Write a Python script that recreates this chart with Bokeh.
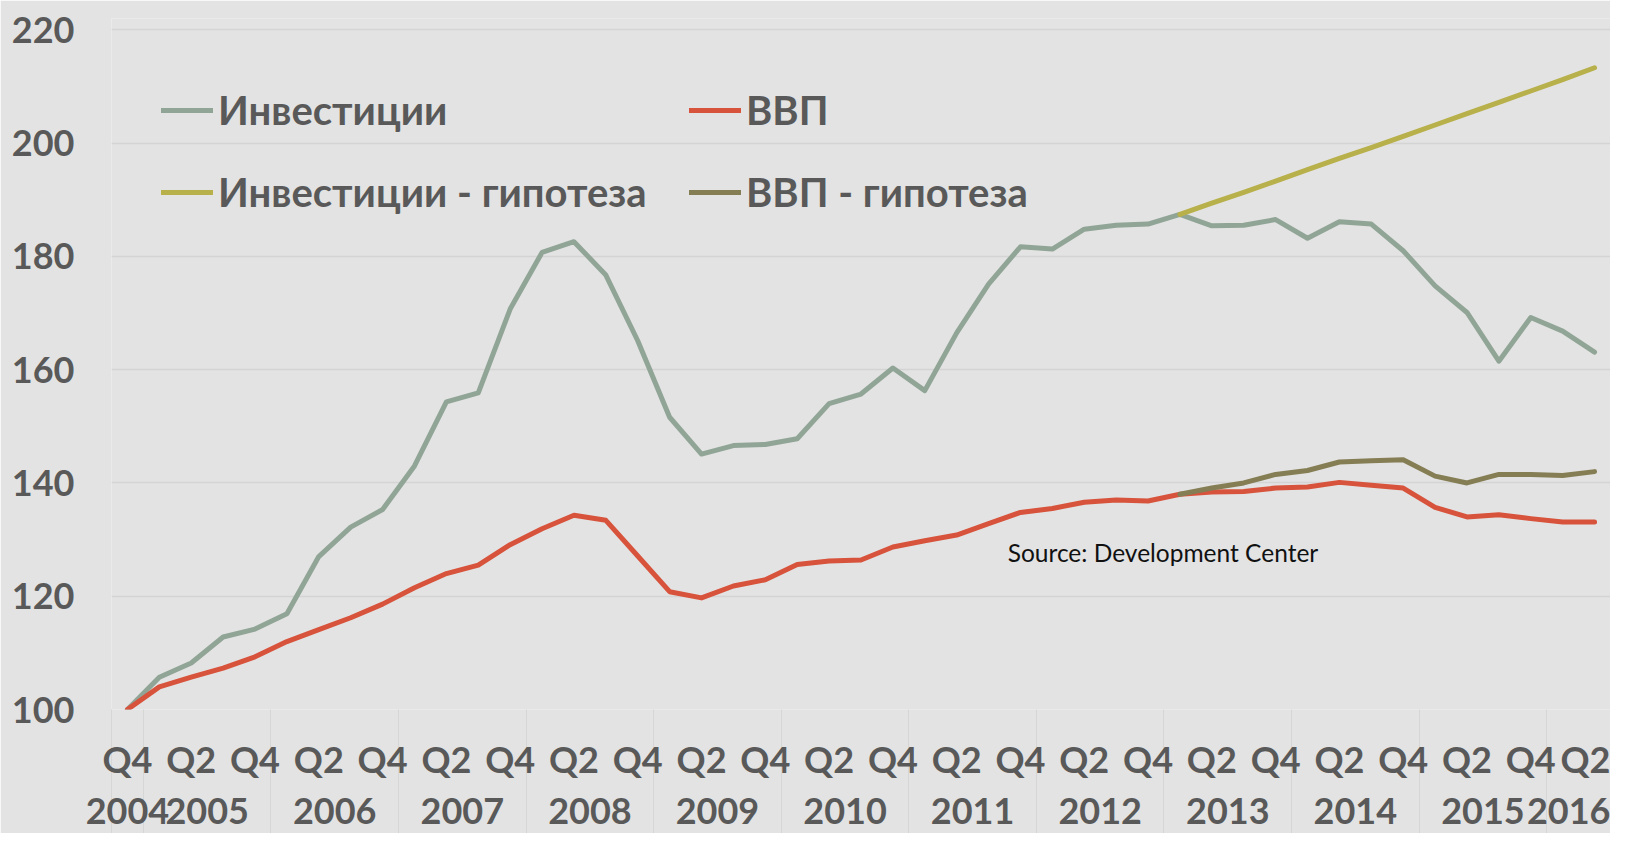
from bokeh.plotting import figure
from bokeh.models import Range1d, LinearAxis, FixedTicker, Legend, LegendItem, Label
from bokeh.embed import file_html
from bokeh.resources import INLINE

# ---------------- data ----------------
periods = [
    "2004 Q4",
    "2005 Q1", "2005 Q2", "2005 Q3", "2005 Q4",
    "2006 Q1", "2006 Q2", "2006 Q3", "2006 Q4",
    "2007 Q1", "2007 Q2", "2007 Q3", "2007 Q4",
    "2008 Q1", "2008 Q2", "2008 Q3", "2008 Q4",
    "2009 Q1", "2009 Q2", "2009 Q3", "2009 Q4",
    "2010 Q1", "2010 Q2", "2010 Q3", "2010 Q4",
    "2011 Q1", "2011 Q2", "2011 Q3", "2011 Q4",
    "2012 Q1", "2012 Q2", "2012 Q3", "2012 Q4",
    "2013 Q1", "2013 Q2", "2013 Q3", "2013 Q4",
    "2014 Q1", "2014 Q2", "2014 Q3", "2014 Q4",
    "2015 Q1", "2015 Q2", "2015 Q3", "2015 Q4",
    "2016 Q1", "2016 Q2",
]

investments = [100.0, 105.7, 108.2, 112.8, 114.2, 116.9, 127.0, 132.2, 135.3, 143.0,
               154.3, 155.9, 170.7, 180.7, 182.6, 176.7, 165.1, 151.6, 145.1, 146.6,
               146.8, 147.8, 154.0, 155.7, 160.3, 156.3, 166.5, 175.1, 181.7, 181.3,
               184.8, 185.5, 185.7, 187.4, 185.4, 185.5, 186.5, 183.2, 186.1, 185.7,
               181.0, 174.8, 170.1, 161.5, 169.2, 166.8, 163.1]

gdp = [100.0, 104.0, 105.7, 107.3, 109.3, 112.0, 114.1, 116.2, 118.6, 121.5,
       124.0, 125.5, 129.1, 131.9, 134.3, 133.4, 127.1, 120.8, 119.7, 121.8,
       122.9, 125.6, 126.2, 126.4, 128.7, 129.8, 130.8, 132.8, 134.8, 135.5,
       136.6, 137.0, 136.8, 138.0, 138.4, 138.5, 139.1, 139.3, 140.1, 139.6,
       139.1, 135.7, 134.0, 134.4, 133.7, 133.1, 133.1]

hyp_start = "2013 Q1"
investments_hyp = [187.4, 189.4, 191.3, 193.3, 195.3, 197.3, 199.2, 201.2, 203.2,
                   205.2, 207.2, 209.2, 211.2, 213.3]
gdp_hyp = [138.0, 139.1, 140.0, 141.5, 142.2, 143.7, 143.9, 144.1, 141.2, 140.0,
           141.5, 141.5, 141.3, 142.0]

y_ticks = [100, 120, 140, 160, 180, 200, 220]

names = ["Инвестиции", "ВВП", "Инвестиции - гипотеза", "ВВП - гипотеза"]
colors = ["#91A597", "#D8533B", "#B8B04A", "#857E54"]

source_text = "Source: Development Center"

# ---------------- derived positions ----------------
x = list(range(len(periods)))
q_of = [s.split()[1] for s in periods]
yr_of = [s.split()[0] for s in periods]
h0 = periods.index(hyp_start)
x_hyp = x[h0:h0 + len(investments_hyp)]

q_ticks = [i for i in x if q_of[i] in ("Q2", "Q4")]
q_over = {i: q_of[i] for i in q_ticks}

groups = {}
for i, yy in enumerate(yr_of):
    groups.setdefault(yy, []).append(i)
year_ticks = [(g[0] + g[-1]) / 2 for g in groups.values()]
year_over = {t: yy for t, yy in zip(year_ticks, groups.keys())}
bounds = [g[0] - 0.5 for g in groups.values()] + [len(periods) - 0.5]

# ---------------- figure ----------------
BG = "#E3E3E3"
TXT = "#595959"
FONT = "Lato"
SEP = 124  # length of the year separators below the plot

p = figure(width=1610, height=833, output_backend="svg", toolbar_location=None,
           x_range=Range1d(-0.5, len(periods) - 0.5), y_range=Range1d(100, 222),
           x_axis_location=None,
           min_border_left=111, min_border_right=0, min_border_top=18, min_border_bottom=124)
p.background_fill_color = BG
p.border_fill_color = BG
p.outline_line_color = None

p.xgrid.visible = False
p.ygrid.ticker = FixedTicker(ticks=y_ticks)
p.ygrid.grid_line_color = "#D4D4D4"
p.ygrid.grid_line_width = 1.5

ya = p.yaxis[0]
ya.ticker = FixedTicker(ticks=y_ticks)
ya.axis_line_color = None
ya.major_tick_line_color = None
ya.minor_tick_line_color = None
ya.major_tick_out = 0
ya.major_tick_in = 0
ya.major_label_standoff = 37
ya.major_label_text_font = FONT
ya.major_label_text_font_size = "36px"
ya.major_label_text_font_style = "bold"
ya.major_label_text_color = TXT

qa = LinearAxis(ticker=FixedTicker(ticks=q_ticks, minor_ticks=bounds),
                major_label_overrides=q_over)
qa.axis_line_color = None
qa.major_tick_line_color = None
qa.major_tick_out = 0
qa.major_tick_in = 0
qa.minor_tick_in = 0
qa.minor_tick_out = SEP
qa.minor_tick_line_color = "#D6D6D6"
qa.minor_tick_line_width = 1
qa.major_label_standoff = 27 - SEP
qa.major_label_text_font = FONT
qa.major_label_text_font_size = "36px"
qa.major_label_text_font_style = "bold"
qa.major_label_text_color = TXT
p.add_layout(qa, "below")

ya2 = LinearAxis(ticker=FixedTicker(ticks=year_ticks), major_label_overrides=year_over)
ya2.axis_line_color = None
ya2.major_tick_line_color = None
ya2.minor_tick_line_color = None
ya2.major_tick_out = 0
ya2.major_tick_in = 0
ya2.major_label_standoff = 14
ya2.major_label_text_font = FONT
ya2.major_label_text_font_size = "36px"
ya2.major_label_text_font_style = "bold"
ya2.major_label_text_color = TXT
p.add_layout(ya2, "below")

lw = 5
r_inv = p.line(x, investments, line_color=colors[0], line_width=lw, line_cap="round", line_join="round")
r_gdp = p.line(x, gdp, line_color=colors[1], line_width=lw, line_cap="round", line_join="round")
r_inv_h = p.line(x_hyp, investments_hyp, line_color=colors[2], line_width=lw, line_cap="round", line_join="round")
r_gdp_h = p.line(x_hyp, gdp_hyp, line_color=colors[3], line_width=lw, line_cap="round", line_join="round")


def make_legend(items, loc):
    lg = Legend(items=items, location=loc, orientation="vertical")
    lg.background_fill_alpha = 0
    lg.border_line_color = None
    lg.padding = 0
    lg.margin = 0
    lg.spacing = 34
    lg.glyph_width = 52
    lg.glyph_height = 48
    lg.label_height = 48
    lg.label_standoff = 5
    lg.label_text_font = FONT
    lg.label_text_font_size = "40px"
    lg.label_text_font_style = "bold"
    lg.label_text_color = TXT
    return lg


leg1 = make_legend([LegendItem(label=names[0], renderers=[r_inv]),
                    LegendItem(label=names[2], renderers=[r_inv_h])], (50, 493))
leg2 = make_legend([LegendItem(label=names[1], renderers=[r_gdp]),
                    LegendItem(label=names[3], renderers=[r_gdp_h])], (578, 493))
p.add_layout(leg1, "center")
p.add_layout(leg2, "center")

src = Label(x=27.6, y=127.8, text=source_text, text_font=FONT, text_font_size="24.5px",
            text_color="#111111", text_baseline="middle", text_align="left")
p.add_layout(src)

open("out.html", "w").write(file_html(p, INLINE))
